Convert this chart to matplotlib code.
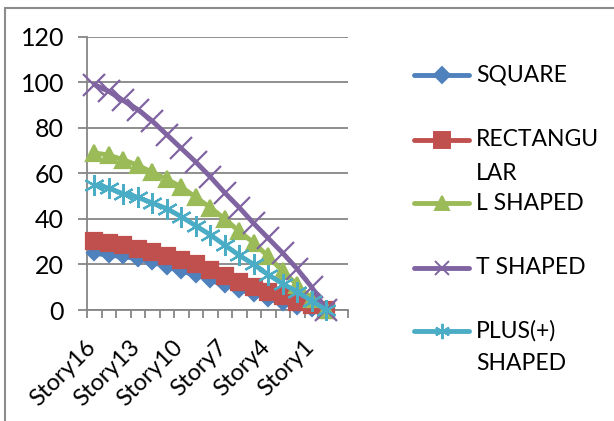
import matplotlib
matplotlib.use("Agg")
import matplotlib.pyplot as plt
from matplotlib.lines import Line2D
from matplotlib.patches import Rectangle
from matplotlib.transforms import ScaledTranslation

plt.rcParams['font.family'] = ['Lato', 'DejaVu Sans']

# categories (18 slots on the axis, the last one is empty in the original chart)
categories = ['Story16', 'Story15', 'Story14', 'Story13', 'Story12', 'Story11',
              'Story10', 'Story9', 'Story8', 'Story7', 'Story6', 'Story5',
              'Story4', 'Story3', 'Story2', 'Story1', 'Base', '']

square = [25, 24, 23.5, 22.5, 21, 19, 17, 15.5, 13, 11, 9, 7, 5, 3, 1.5, 0.5, 0]
rectangular = [30.5, 29.5, 28.5, 27, 25.5, 23.5, 22, 20, 17.5, 15, 12.5, 10, 8, 6, 3.5, 2, 0]
l_shaped = [69, 68, 66, 63.5, 60.5, 57.5, 54, 49.5, 45, 40, 34.5, 29.5, 23.5, 17, 11, 5, 0]
t_shaped = [99, 96, 92, 88, 83, 77, 71, 65, 58.5, 51.5, 45, 38, 31.5, 25, 18, 10, 0]
plus_shaped = [55, 53.5, 51, 49.5, 47, 44.5, 41, 37, 33, 28.5, 24, 20, 15.5, 11.5, 8, 4, 0]

series_names = ['SQUARE', 'RECTANGU\nLAR', 'L SHAPED', 'T SHAPED', 'PLUS(+)\nSHAPED']
series_values = [square, rectangular, l_shaped, t_shaped, plus_shaped]
colors = ['#4F81BD', '#C0504D', '#9BBB59', '#8064A2', '#4BACC6']
markers = ['D', 's', '^', 'x', (6, 2, 0)]
msizes = [7, 11, 11, 16, 15]
legend_msizes = [8, 11, 10, 10, 11]

W, H = 614, 421
fig = plt.figure(figsize=(W / 100, H / 100), dpi=100)
ax = fig.add_axes([87 / W, 1 - 310 / H, (348 - 87) / W, (310 - 36.7) / H])

grid_col = '#868686'
for vals, c, m, ms in zip(series_values, colors, markers, msizes):
    ax.plot(range(len(vals)), vals, color=c, lw=3.5, marker=m, markersize=ms,
            markerfacecolor=c, markeredgecolor=c, markeredgewidth=1.6,
            solid_capstyle='round', solid_joinstyle='round', clip_on=False, zorder=3)

ax.set_ylim(0, 120)
ax.set_yticks(range(0, 121, 20))
ax.set_xlim(-0.5, len(categories) - 0.5)
ax.set_xticks(range(0, 16, 3))
ax.set_xticklabels([categories[i] for i in range(0, 16, 3)], rotation=45,
                   ha='right', va='top', rotation_mode='default')
ax.set_xticks([i - 0.5 for i in range(len(categories) + 1)], minor=True)
ax.tick_params(axis='x', which='major', length=0, pad=19, labelsize=17)
ax.tick_params(axis='x', which='minor', length=6, width=1.3, color=grid_col)
ax.tick_params(axis='y', length=6.5, width=1.3, color=grid_col, labelsize=18, pad=10)

shift = ScaledTranslation(6 / 100, 0, fig.dpi_scale_trans)
for lbl in ax.get_xticklabels():
    lbl.set_transform(lbl.get_transform() + shift)

ax.grid(axis='y', color=grid_col, lw=1.3)
ax.set_axisbelow(True)
for side in ['top', 'right']:
    ax.spines[side].set_visible(False)
for side in ['left', 'bottom']:
    ax.spines[side].set_color(grid_col)
    ax.spines[side].set_linewidth(1.3)

# chart area border (only left and top edges are inside the picture)
fig.add_artist(Rectangle((5 / W, -0.1), 1.2, 1 - 8 / H + 0.1, transform=fig.transFigure,
                         fill=False, edgecolor='#8c8c8c', lw=1.5))

# legend on the right
legend_y = [75, 140, 203, 268, 331]
for name, c, m, lms, y in zip(series_names, colors, markers, legend_msizes, legend_y):
    yf = 1 - y / H
    fig.add_artist(Line2D([414 / W, 469 / W], [yf, yf], transform=fig.transFigure,
                          color=c, lw=3.5, solid_capstyle='round'))
    fig.add_artist(Line2D([441.5 / W], [yf], transform=fig.transFigure, color=c,
                          marker=m, markersize=lms, markerfacecolor=c,
                          markeredgecolor=c, markeredgewidth=1.4, linestyle='none'))
    for k, line in enumerate(name.split('\n')):
        fig.text(476 / W, 1 - (y + 33 * k) / H, line, fontsize=16.5,
                 va='center', ha='left')

fig.savefig('out.png', dpi=100)
